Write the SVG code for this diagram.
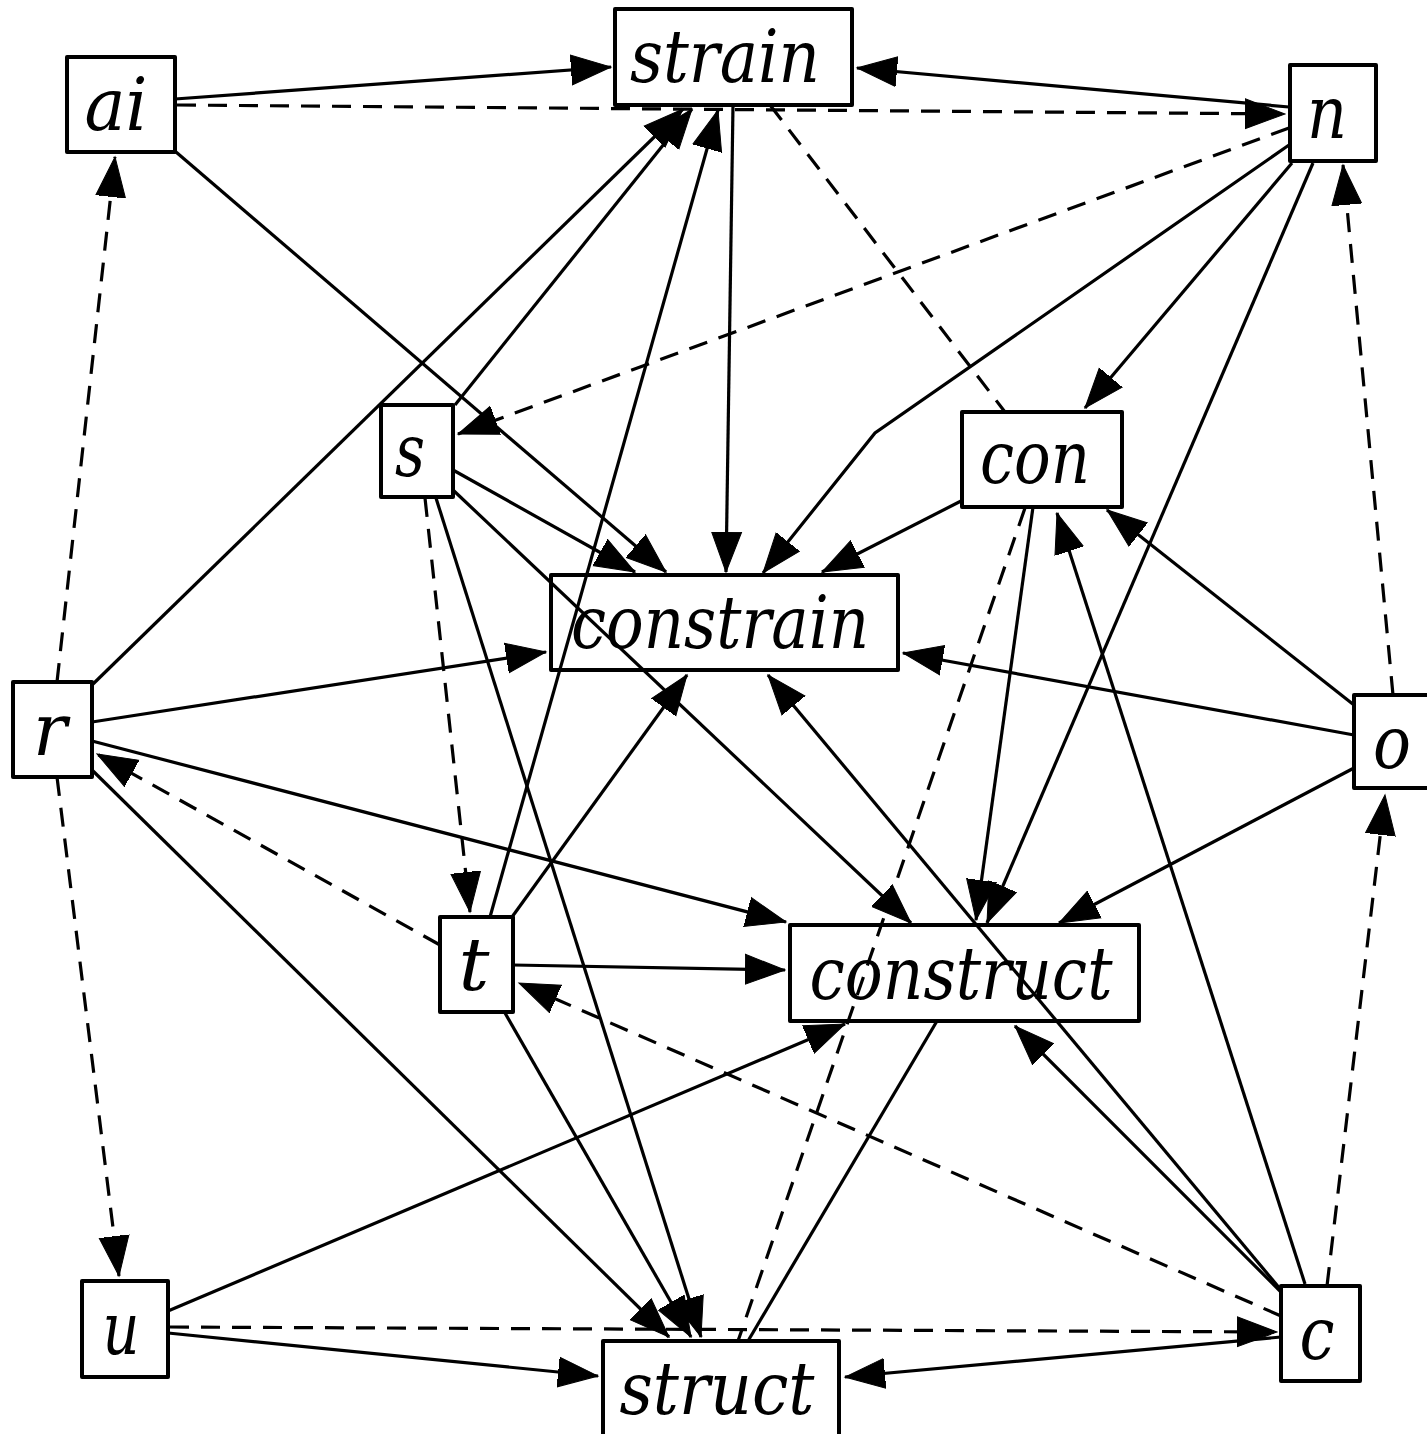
<svg xmlns="http://www.w3.org/2000/svg" width="1427" height="1434" viewBox="0 0 1427 1434">
  <style>
    .box { fill: none; stroke: #000000; stroke-width: 4; stroke-linejoin: round; }
    .lbl { font-family: "DejaVu Serif", "Liberation Serif", serif; font-style: italic; font-size: 72px; fill: #000000; text-anchor: middle; }
    .e { fill: none; stroke: #000000; stroke-width: 3.2; }
    .a { marker-end: url(#head); }
    .d { stroke-dasharray: 19 12; }
  </style>
  <defs>
    <marker id="head" markerUnits="userSpaceOnUse" markerWidth="42" markerHeight="32" refX="40" refY="15" orient="auto" viewBox="0 0 42 30">
      <path d="M0,0 L40,15 L0,30 z" fill="#000000" stroke="#000000" stroke-width="1"/>
    </marker>
  </defs>
  <rect width="1427" height="1434" fill="#ffffff"/>

  <g id="edges">
    <!-- solid, directed -->
    <path class="e a" d="M175,99 L611,67"/>
    <path class="e a" d="M1289,107 L857,68"/>
    <path class="e a" d="M733,105 L726,572"/>
    <path class="e a" d="M1289,145 L875,433 L763,573"/>
    <path class="e a" d="M1292,163 L1085,408"/>
    <path class="e a" d="M1313,163 L987,923"/>
    <path class="e a" d="M176,152 L666,572"/>
    <path class="e a" d="M453,470 L635,572"/>
    <path class="e a" d="M453,490 L911,923"/>
    <path class="e a" d="M455,405 L692,109"/>
    <path class="e a" d="M92,685 L683,109"/>
    <path class="e a" d="M490,917 L718,110"/>
    <path class="e a" d="M92,722 L546,652"/>
    <path class="e a" d="M92,741 L786,922"/>
    <path class="e a" d="M92,770 L669,1337"/>
    <path class="e a" d="M505,1013 L691,1337"/>
    <path class="e a" d="M436,498 L701,1337"/>
    <path class="e a" d="M512,917 L687,675"/>
    <path class="e a" d="M513,965 L785,970"/>
    <path class="e a" d="M1281,1290 L768,675"/>
    <path class="e a" d="M1281,1292 L1015,1026"/>
    <path class="e a" d="M1305,1284 L1057,513"/>
    <path class="e a" d="M1354,705 L1107,510"/>
    <path class="e a" d="M1354,735 L903,653"/>
    <path class="e a" d="M1354,768 L1059,923"/>
    <path class="e a" d="M963,500 L822,572"/>
    <path class="e a" d="M1033,507 L976,920"/>
    <path class="e a" d="M168,1311 L845,1024"/>
    <path class="e a" d="M168,1333 L598,1376"/>
    <path class="e a" d="M1281,1337 L845,1377"/>
    <!-- solid, undirected -->
    <path class="e" d="M937,1021 L748,1341"/>
    <!-- dashed, directed -->
    <path class="e d a" d="M177,105 L1285,114"/>
    <path class="e d a" d="M1289,128 L458,434"/>
    <path class="e d a" d="M1393,695 L1343,165"/>
    <path class="e d a" d="M57,682 L115,157"/>
    <path class="e d a" d="M425,498 L470,912"/>
    <path class="e d a" d="M440,945 L97,754"/>
    <path class="e d a" d="M1281,1316 L519,983"/>
    <path class="e d a" d="M1327,1286 L1385,795"/>
    <path class="e d a" d="M170,1327 L1277,1332"/>
    <path class="e d a" d="M57,777 L119,1276"/>
    <!-- dashed, undirected -->
    <path class="e d" d="M770,105 L1005,412"/>
    <path class="e d" d="M1025,508 L738,1341"/>
  </g>

  <g id="node-ai"><rect class="box" x="67" y="57" width="108" height="95"/><text class="lbl" x="116" y="130" textLength="63" lengthAdjust="spacingAndGlyphs">ai</text></g>
  <g id="node-strain"><rect class="box" x="615" y="9" width="237" height="96"/><text class="lbl" x="725" y="82" textLength="190" lengthAdjust="spacingAndGlyphs">strain</text></g>
  <g id="node-n"><rect class="box" x="1290" y="65" width="86" height="96"/><text class="lbl" x="1327" y="138" textLength="40" lengthAdjust="spacingAndGlyphs">n</text></g>
  <g id="node-r"><rect class="box" x="13" y="682" width="79" height="95"/><text class="lbl" x="50" y="755" textLength="34" lengthAdjust="spacingAndGlyphs">r</text></g>
  <g id="node-s"><rect class="box" x="381" y="405" width="72" height="92"/><text class="lbl" x="410" y="476" textLength="30" lengthAdjust="spacingAndGlyphs">s</text></g>
  <g id="node-constrain"><rect class="box" x="551" y="575" width="347" height="95"/><text class="lbl" x="720" y="648" textLength="298" lengthAdjust="spacingAndGlyphs">constrain</text></g>
  <g id="node-con"><rect class="box" x="962" y="412" width="160" height="95"/><text class="lbl" x="1035" y="483" textLength="110" lengthAdjust="spacingAndGlyphs">con</text></g>
  <g id="node-o"><rect class="box" x="1354" y="695" width="80" height="93"/><text class="lbl" x="1392" y="768" textLength="38" lengthAdjust="spacingAndGlyphs">o</text></g>
  <g id="node-t"><rect class="box" x="440" y="917" width="73" height="95"/><text class="lbl" x="474" y="990" textLength="31" lengthAdjust="spacingAndGlyphs">t</text></g>
  <g id="node-construct"><rect class="box" x="790" y="925" width="349" height="96"/><text class="lbl" x="961" y="999" textLength="303" lengthAdjust="spacingAndGlyphs">construct</text></g>
  <g id="node-u"><rect class="box" x="82" y="1281" width="86" height="96"/><text class="lbl" x="121" y="1354" textLength="37" lengthAdjust="spacingAndGlyphs">u</text></g>
  <g id="node-struct"><rect class="box" x="603" y="1341" width="236" height="96"/><text class="lbl" x="717" y="1414" textLength="195" lengthAdjust="spacingAndGlyphs">struct</text></g>
  <g id="node-c"><rect class="box" x="1281" y="1286" width="79" height="95"/><text class="lbl" x="1317" y="1359" textLength="35" lengthAdjust="spacingAndGlyphs">c</text></g>
</svg>
